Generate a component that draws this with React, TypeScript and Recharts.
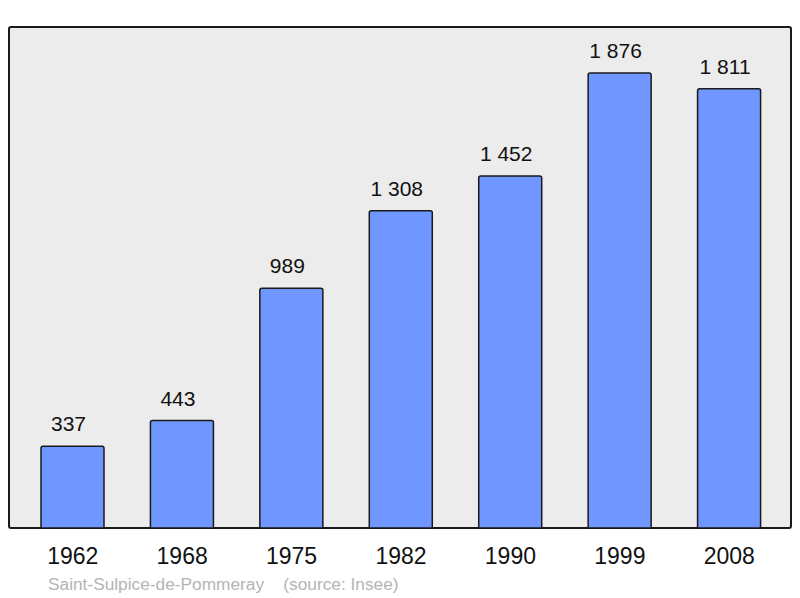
import { BarChart, Bar, XAxis, YAxis, LabelList } from 'recharts'

const years = ['1962', '1968', '1975', '1982', '1990', '1999', '2008']
const population = [337, 443, 989, 1308, 1452, 1876, 1811]
const commune = 'Saint-Sulpice-de-Pommeray'
const source = '(source: Insee)'

const data = years.map((year, i) => ({ year, pop: population[i] }))

const fmt = (v: number) => String(v).replace(/\B(?=(\d{3})+(?!\d))/g, ' ')

export default function App() {
  return (
    <div style={{ position: 'absolute', left: 0, top: 0, width: 800, height: 598, fontFamily: '"Liberation Sans", Arial, sans-serif' }}>
      <div
        style={{
          position: 'absolute',
          left: 8,
          top: 26,
          width: 780,
          height: 499,
          background: '#ececec',
          border: '2px solid #1a1a1a',
          borderRadius: 3,
        }}
      />
      <div style={{ position: 'absolute', left: 0, top: 0 }}>
        <BarChart width={800} height={598} data={data} margin={{ top: 27, right: 16, left: 18, bottom: 40 }}>
          <XAxis
            dataKey="year"
            axisLine={false}
            tickLine={false}
            height={30}
            tick={{ fontSize: 23, fill: '#111', dy: 12 }}
            interval={0}
          />
          <YAxis hide domain={[0, 2066]} />
          <Bar dataKey="pop" fill="#7096ff" stroke="#1a1a1a" strokeWidth={1.5} barSize={63} radius={[2, 2, 0, 0]} isAnimationActive={false}>
            <LabelList dataKey="pop" position="top" offset={15} dx={-4} formatter={(v: any) => fmt(Number(v))} style={{ fontSize: 21, fill: '#111' }} />
          </Bar>
        </BarChart>
      </div>
      <div style={{ position: 'absolute', left: 48, top: 574, fontSize: 17.3, color: '#b4b4b4', whiteSpace: 'pre' }}>
        {commune + '    ' + source}
      </div>
    </div>
  )
}
